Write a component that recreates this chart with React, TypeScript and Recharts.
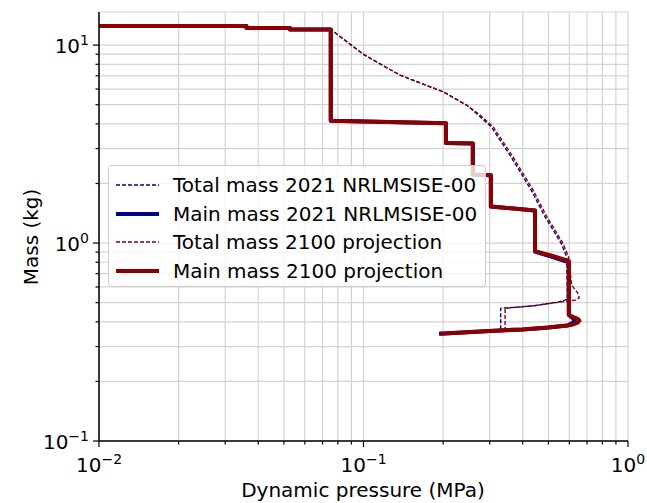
import React from 'react';
import { LineChart, Line, XAxis, YAxis, CartesianGrid, Legend } from 'recharts';

// log-axis ticks (majors get labels, all get grid lines)
const xTicks = [0.01, 0.02, 0.03, 0.04, 0.05, 0.06, 0.07, 0.08, 0.09, 0.1, 0.2, 0.3, 0.4, 0.5, 0.6, 0.7, 0.8, 0.9, 1];
const yTicks = [0.1, 0.2, 0.3, 0.4, 0.5, 0.6, 0.7, 0.8, 0.9, 1, 2, 3, 4, 5, 6, 7, 8, 9, 10];
const xMajor = [0.01, 0.1, 1];
const yMajor = [0.1, 1, 10];

// Main mass, 2100 projection (pressure MPa / mass kg)
const main2100P = [0.01, 0.0361, 0.0361, 0.0527, 0.0527, 0.0752, 0.0752, 0.205, 0.205, 0.259, 0.259, 0.303, 0.303, 0.445, 0.445, 0.52, 0.598, 0.598, 0.625, 0.648, 0.655, 0.645, 0.62, 0.59, 0.5, 0.4, 0.3, 0.195];
const main2100M = [12.5, 12.5, 12.2, 12.2, 12.0, 12.0, 4.15, 4.03, 3.2, 3.18, 2.22, 2.2, 1.53, 1.46, 0.91, 0.86, 0.81, 0.433, 0.422, 0.413, 0.405, 0.396, 0.388, 0.383, 0.374, 0.366, 0.36, 0.348];

// Main mass, 2021 NRLMSISE-00
const main2021P = [0.01, 0.0361, 0.0361, 0.0527, 0.0527, 0.0752, 0.0752, 0.205, 0.205, 0.259, 0.259, 0.303, 0.303, 0.445, 0.445, 0.52, 0.597, 0.597, 0.615, 0.628, 0.62, 0.6, 0.59, 0.5, 0.4, 0.3, 0.193];
const main2021M = [12.5, 12.5, 12.2, 12.2, 12.0, 12.0, 4.15, 4.03, 3.2, 3.18, 2.22, 2.2, 1.53, 1.46, 0.905, 0.85, 0.8, 0.433, 0.42, 0.408, 0.397, 0.388, 0.383, 0.374, 0.366, 0.36, 0.348];

// Total mass, 2100 projection
const total2100P = [0.01, 0.0361, 0.0361, 0.0527, 0.0527, 0.0752, 0.0997, 0.1374, 0.2, 0.2275, 0.2455, 0.276, 0.309, 0.367, 0.438, 0.493, 0.52, 0.567, 0.596, 0.612, 0.645, 0.655, 0.635, 0.6, 0.439, 0.343, 0.343, 0.3, 0.195];
const total2100M = [12.5, 12.5, 12.2, 12.2, 12.0, 12.0, 9.0, 7.05, 5.81, 5.27, 4.98, 4.43, 3.87, 2.73, 1.85, 1.36, 1.21, 1.0, 0.853, 0.614, 0.56, 0.53, 0.515, 0.511, 0.482, 0.468, 0.364, 0.36, 0.348];

// Total mass, 2021 NRLMSISE-00
const total2021P = [0.01, 0.0361, 0.0361, 0.0527, 0.0527, 0.0752, 0.0997, 0.1374, 0.2, 0.2275, 0.2455, 0.272, 0.304, 0.361, 0.431, 0.485, 0.512, 0.558, 0.587, 0.59, 0.55, 0.44, 0.33, 0.33, 0.3, 0.195];
const total2021M = [12.5, 12.5, 12.2, 12.2, 12.0, 12.0, 9.0, 7.05, 5.81, 5.27, 4.98, 4.43, 3.87, 2.73, 1.85, 1.36, 1.21, 1.0, 0.85, 0.52, 0.505, 0.482, 0.468, 0.364, 0.36, 0.348];

const toPoints = (p: number[], m: number[]) => p.map((v, i) => ({ p: v, m: m[i] }));

const BLUE = '#00008b';
const RED = '#8b0000';
const FONT = '"DejaVu Sans", sans-serif';
const FS = 20;

const series = [
  { name: 'Total mass 2021 NRLMSISE-00', color: BLUE, dashed: true, data: toPoints(total2021P, total2021M) },
  { name: 'Main mass 2021 NRLMSISE-00', color: BLUE, dashed: false, data: toPoints(main2021P, main2021M) },
  { name: 'Total mass 2100 projection', color: RED, dashed: true, data: toPoints(total2100P, total2100M) },
  { name: 'Main mass 2100 projection', color: RED, dashed: false, data: toPoints(main2100P, main2100M) },
];

const expOf = (v: number) => Math.round(Math.log10(v));
const expText = (e: number) => (e < 0 ? '\u2212' + Math.abs(e) : String(e));

const XTick = (props: any) => {
  const { x, y, payload } = props;
  const major = xMajor.some((m) => Math.abs(m - payload.value) < 1e-9);
  return (
    <g>
      <line x1={x} x2={x} y1={y} y2={y + (major ? 6 : 3.5)} stroke="#000" strokeWidth={1.2} />
      {major && (
        <text x={x} y={y + 31} textAnchor="middle" fontSize={FS} fontFamily={FONT} fill="#000">
          10<tspan dy={-8} fontSize={14}>{expText(expOf(payload.value))}</tspan>
        </text>
      )}
    </g>
  );
};

const YTick = (props: any) => {
  const { x, y, payload } = props;
  const major = yMajor.some((m) => Math.abs(m - payload.value) < 1e-9);
  return (
    <g>
      <line x1={x} x2={x - (major ? 6 : 3.5)} y1={y} y2={y} stroke="#000" strokeWidth={1.2} />
      {major && (
        <text x={x - 10} y={y + 8} textAnchor="end" fontSize={FS} fontFamily={FONT} fill="#000">
          10<tspan dy={-8} fontSize={14}>{expText(expOf(payload.value))}</tspan>
        </text>
      )}
    </g>
  );
};

const LegendBox = () => (
  <div
    style={{
      boxSizing: 'border-box',
      width: 378,
      height: 122,
      border: '1px solid #cccccc',
      borderRadius: 4,
      background: 'rgba(255,255,255,0.8)',
      paddingTop: 5,
      fontFamily: FONT,
      fontSize: FS,
      color: '#000',
    }}
  >
    {series.map((s) => (
      <div key={s.name} style={{ display: 'flex', alignItems: 'center', height: 28.5 }}>
        <svg width={43} height={10} style={{ marginLeft: 7, marginRight: 14, flexShrink: 0 }}>
          <line
            x1={0}
            x2={43}
            y1={5}
            y2={5}
            stroke={s.color}
            strokeWidth={s.dashed ? 1.4 : 4}
            strokeDasharray={s.dashed ? '4 2' : undefined}
          />
        </svg>
        <span style={{ whiteSpace: 'nowrap' }}>{s.name}</span>
      </div>
    ))}
  </div>
);

const App = () => (
  <div style={{ position: 'absolute', left: 0, top: 0, background: '#fff' }}>
    <LineChart width={647} height={503} margin={{ top: 12, right: 19, bottom: 10, left: 10 }}>
      <CartesianGrid stroke="#d3d3d3" strokeWidth={1.2} />
      <XAxis
        dataKey="p"
        type="number"
        scale="log"
        domain={[0.01, 1]}
        allowDataOverflow
        ticks={xTicks}
        interval={0}
        height={52}
        tickSize={0}
        tickMargin={0}
        tickLine={false}
        tick={<XTick />}
        axisLine={{ stroke: '#000', strokeWidth: 1.5 }}
        label={{
          content: () => (
            <text x={363} y={497} textAnchor="middle" fontSize={FS} fontFamily={FONT} fill="#000">
              Dynamic pressure (MPa)
            </text>
          ),
        }}
      />
      <XAxis
        xAxisId="top"
        orientation="top"
        type="number"
        scale="log"
        domain={[0.01, 1]}
        allowDataOverflow
        ticks={[]}
        tick={false}
        tickLine={false}
        height={0}
        axisLine={{ stroke: '#000', strokeWidth: 1.5 }}
      />
      <YAxis
        dataKey="m"
        type="number"
        scale="log"
        domain={[0.1, 14.7]}
        allowDataOverflow
        ticks={yTicks}
        interval={0}
        width={89}
        tickSize={0}
        tickMargin={0}
        tickLine={false}
        tick={<YTick />}
        axisLine={{ stroke: '#000', strokeWidth: 1.5 }}
        label={{
          content: () => (
            <text
              x={38}
              y={237}
              transform="rotate(-90, 38, 237)"
              textAnchor="middle"
              fontSize={FS}
              fontFamily={FONT}
              fill="#000"
            >
              Mass (kg)
            </text>
          ),
        }}
      />
      <YAxis
        yAxisId="right"
        orientation="right"
        type="number"
        scale="log"
        domain={[0.1, 14.7]}
        allowDataOverflow
        ticks={[]}
        tick={false}
        tickLine={false}
        width={0}
        axisLine={{ stroke: '#000', strokeWidth: 1.5 }}
      />
      {series.map((s) => (
        <Line
          key={s.name}
          data={s.data}
          dataKey="m"
          name={s.name}
          type="linear"
          stroke={s.color}
          strokeWidth={s.dashed ? 1.4 : 4}
          strokeDasharray={s.dashed ? '4 2' : undefined}
          strokeLinejoin="round"
          dot={false}
          activeDot={false}
          isAnimationActive={false}
        />
      ))}
      <Legend
        layout="vertical"
        verticalAlign="middle"
        align="center"
        wrapperStyle={{ left: 108, top: 165, width: 378, height: 122 }}
        content={() => <LegendBox />}
      />
    </LineChart>
  </div>
);

export default App;
